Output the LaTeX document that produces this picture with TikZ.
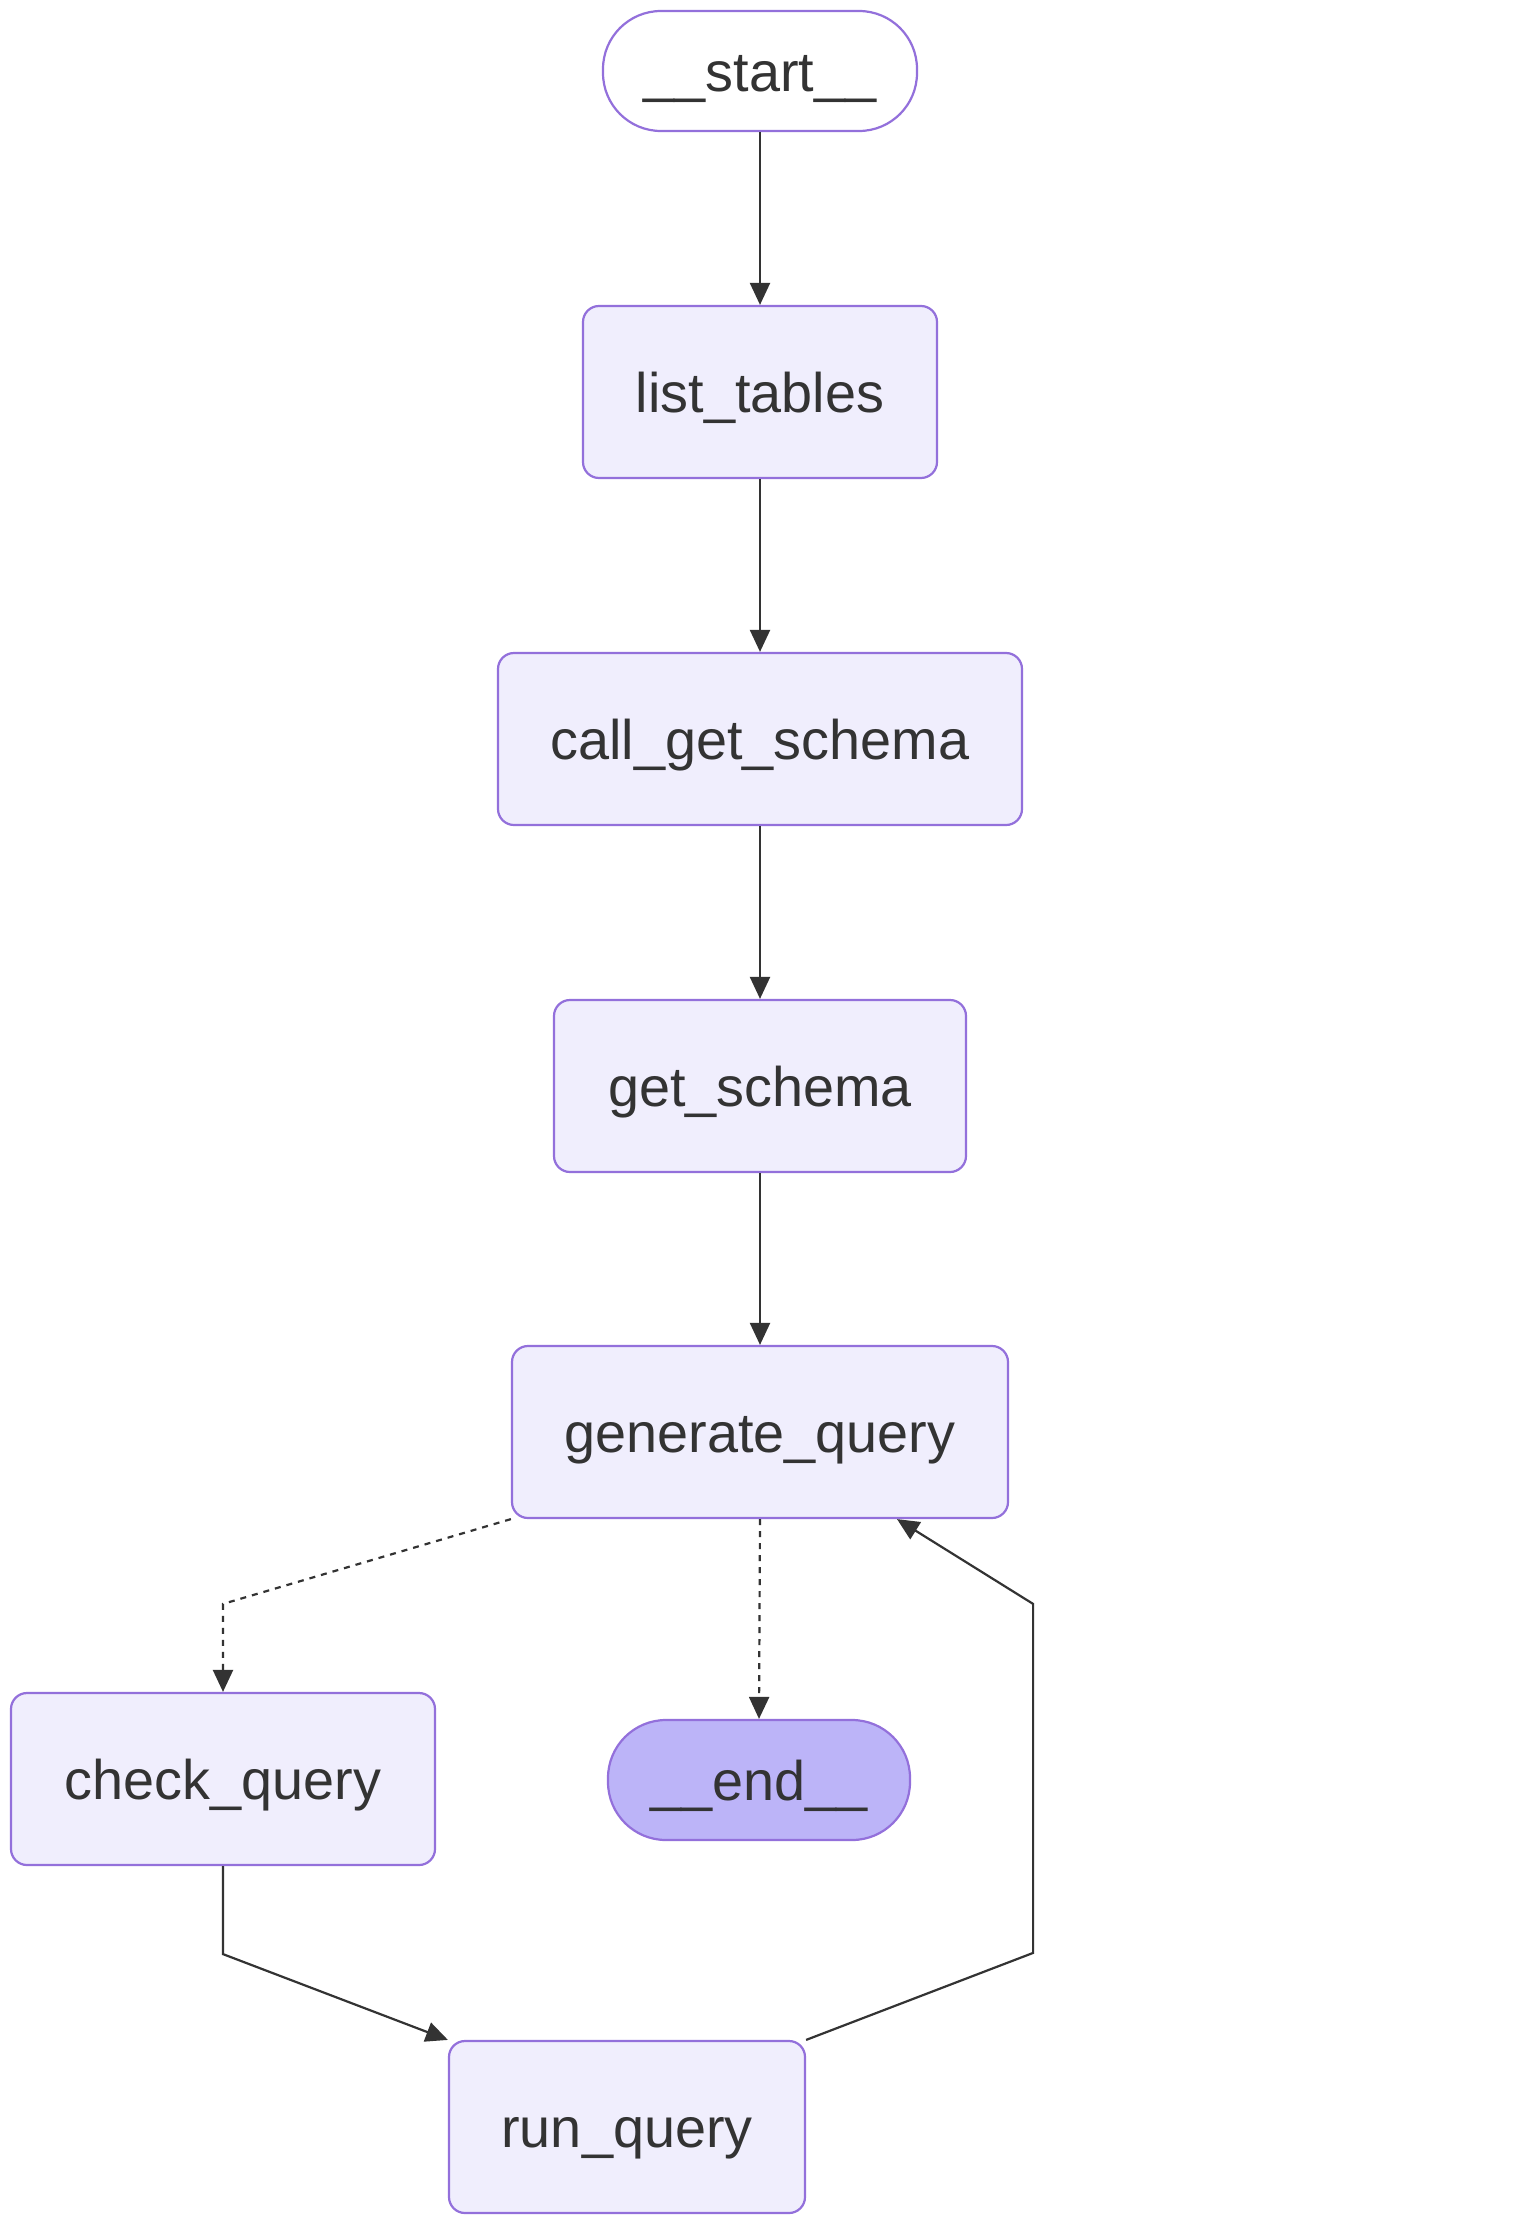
\documentclass[tikz,border=0pt]{standalone}
\usepackage{fontspec}
\setmainfont{Liberation Sans}
\usepackage{tikz}
\usetikzlibrary{arrows.meta, positioning, calc}
\definecolor{nodefill}{HTML}{F0EEFD}
\definecolor{nodeline}{HTML}{9370DB}
\definecolor{lastfill}{HTML}{BCB4F8}
\definecolor{edgecol}{HTML}{333333}

\begin{document}
\begin{tikzpicture}[x=0.5pt, y=-0.5pt, >={Triangle[length=11pt, width=10pt]},
    % khung chung cho cac buoc
    stepbox/.style={draw=nodeline, line width=1.1pt, fill=nodefill, rounded corners=8pt,
        minimum height=86pt, text=edgecol, font=\fontsize{27.9}{33}\selectfont, inner sep=0pt,
        text height=22pt, text depth=1.5pt},
    pill/.style={stepbox, rounded corners=29pt, minimum height=60pt},
    flow/.style={->, draw=edgecol, line width=1.1pt},
    maybe/.style={flow, dash pattern=on 3pt off 3pt}]

    \useasboundingbox (0,0) rectangle (1528,2226);

    % cac node theo thu tu tu tren xuong
    \node[pill, fill=white, minimum width=157pt] (start) at (760,71) {\_\_start\_\_};
    \node[stepbox, minimum width=177pt] (lt) at (760,392) {list\_tables};
    \node[stepbox, minimum width=262pt] (cgs) at (760,739) {call\_get\_schema};
    \node[stepbox, minimum width=206pt] (gs) at (760,1086) {get\_schema};
    \node[stepbox, minimum width=248pt] (gen) at (760,1432) {generate\_query};
    \node[stepbox, minimum width=212pt] (chk) at (223,1779) {check\_query};
    \node[pill, fill=lastfill, minimum width=151pt] (end) at (759,1780) {\_\_end\_\_};
    \node[stepbox, minimum width=178pt] (run) at (627,2127) {run\_query};

    % cac canh thang
    \draw[flow] (start.south) -- (lt.north);
    \draw[flow] (lt.south) -- (cgs.north);
    \draw[flow] (cgs.south) -- (gs.north);
    \draw[flow] (gs.south) -- (gen.north);

    % canh co dieu kien
    \draw[maybe] (gen.south west) -- ($(chk.north)+(0,-88)$) -- (chk.north);
    \draw[maybe] (gen.south) -- (end.north);

    % vong lap
    \draw[flow] (chk.south) -- ++(0,88) -- (run.north west);
    \draw[flow] (run.north east) -- ++(227,-87) -- ++(0,-349) -- ($(gen.south)+(137,0)$);
\end{tikzpicture}
\end{document}
